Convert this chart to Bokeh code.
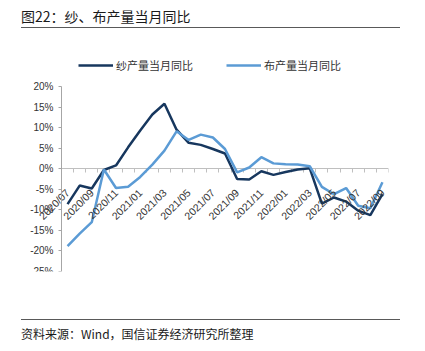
import math
from bokeh.plotting import figure
from bokeh.models import (Range1d, Legend, LegendItem, Div, FixedTicker, LinearAxis)
from bokeh.layouts import column
from bokeh.embed import file_html
from bokeh.resources import INLINE

# ---------------- data ----------------
months = ["2020/07", "2020/08", "2020/09", "2020/10", "2020/11", "2020/12",
          "2021/01", "2021/02", "2021/03", "2021/04", "2021/05", "2021/06",
          "2021/07", "2021/08", "2021/09", "2021/10", "2021/11", "2021/12",
          "2022/01", "2022/02", "2022/03", "2022/04", "2022/05", "2022/06",
          "2022/07", "2022/08", "2022/09"]
yarn = [-8.6, -4.1, -4.8, -0.3, 0.8, 5.2, 9.3, 13.2, 15.8, 9.5, 6.3, 5.8,
        4.8, 3.7, -2.5, -2.6, -0.6, -1.5, -0.8, -0.2, 0.1, -8.5, -7.0, -8.0,
        -10.2, -11.3, -6.2]
cloth = [-18.8, -15.8, -13.0, -0.2, -4.7, -4.4, -2.0, 1.0, 4.4, 9.1, 7.0, 8.3,
         7.6, 4.8, -0.9, 0.3, 2.8, 1.3, 1.1, 1.0, 0.6, -4.4, -6.2, -4.7,
         -9.0, -9.6, -3.3]
series_names = ["纱产量当月同比", "布产量当月同比"]
y_ticks = [-25, -20, -15, -10, -5, 0, 5, 10, 15, 20]
y_tick_labels = ["-25%", "-20%", "-15%", "-10%", "-5%", "0%", "5%", "10%", "15%", "20%"]
title_text = "图22：纱、布产量当月同比"
source_text = "资料来源：Wind，国信证券经济研究所整理"

# ---------------- figure ----------------
idx = list(range(len(months)))
W, FIG_H = 425, 287
TOP, BOTTOM = 26, 48
LEFT, RIGHT = 28, 37
AXIS_X = 61                        # pixel x where the y axis sits
AXIS_PX = 185                      # pixel height of the -25%..20% span
y_lo, y_hi = y_ticks[0], y_ticks[-1]
px = (y_hi - y_lo) / AXIS_PX       # data units per pixel
frame_h = FIG_H - TOP - BOTTOM
y_top = y_lo + frame_h * px        # room above 20% for the legend

x_lo, x_hi = -0.5, len(months) - 0.5
cat_px = (W - RIGHT - AXIS_X) / (x_hi - x_lo)
x_start = x_lo - (AXIS_X - LEFT) / cat_px   # room left of the axis for labels

p = figure(width=W, height=FIG_H,
           x_range=Range1d(x_start, x_hi),
           y_range=Range1d(y_lo, y_top),
           output_backend="svg", toolbar_location=None,
           x_axis_location=None,
           min_border_left=LEFT, min_border_right=RIGHT,
           min_border_top=TOP, min_border_bottom=BOTTOM)
p.outline_line_color = None
p.grid.visible = False
p.background_fill_color = "white"
p.border_fill_color = "white"

ax = p.yaxis[0]
ax.fixed_location = x_lo
ax.ticker = FixedTicker(ticks=y_ticks)
ax.bounds = (y_lo, y_hi)
ax.major_label_overrides = {t: l for t, l in zip(y_ticks, y_tick_labels)}
ax.axis_line_color = "#a6a6a6"
ax.major_tick_line_color = "#a6a6a6"
ax.major_tick_out = 3
ax.major_tick_in = 0
ax.minor_tick_line_color = None
ax.major_label_standoff = 5
ax.major_label_text_font = "Liberation Sans"
ax.major_label_text_font_size = "10px"
ax.major_label_text_color = "#333333"

# x axis crossing at zero: one axis for line + boundary ticks, one for labels
bounds = [i - 0.5 for i in range(len(months) + 1)]
x_rule = LinearAxis(fixed_location=0, ticker=FixedTicker(ticks=bounds),
                    bounds=(x_lo, x_hi),
                    major_label_overrides={b: "" for b in bounds},
                    axis_line_color="#bfbfbf", major_tick_line_color="#bfbfbf",
                    major_tick_out=4, major_tick_in=0,
                    minor_tick_line_color=None, level="underlay")
p.add_layout(x_rule, "below")

lab_idx = idx[::2]
x_lab = LinearAxis(fixed_location=0, ticker=FixedTicker(ticks=lab_idx),
                   major_label_overrides={i: months[i] for i in lab_idx},
                   axis_line_color=None, major_tick_line_color=None,
                   minor_tick_line_color=None, major_tick_out=0, major_tick_in=0,
                   major_label_orientation=math.pi / 4,
                   major_label_standoff=22,
                   major_label_text_font="Liberation Sans",
                   major_label_text_font_size="10.5px",
                   major_label_text_color="#333333")
p.add_layout(x_lab, "below")

r1 = p.line(idx, yarn, line_color="#17375e", line_width=2.5)
r2 = p.line(idx, cloth, line_color="#5b9bd5", line_width=2.5)

legend = Legend(items=[LegendItem(label=series_names[0], renderers=[r1]),
                       LegendItem(label=series_names[1], renderers=[r2])],
                orientation="horizontal", location=(78 - LEFT, 198),
                glyph_width=35, glyph_height=16, label_height=16,
                label_standoff=3, spacing=33, padding=0, margin=0,
                border_line_color=None, background_fill_alpha=0,
                label_text_font="Noto Sans CJK SC", label_text_font_size="11px",
                label_text_color="#333333")
p.add_layout(legend)

title_html = (
    '<div style="position:relative;width:425px;height:32px;background:white">'
    '<div style="position:absolute;left:21px;top:9px;font-family:\'Noto Sans CJK SC\';'
    'font-size:14px;line-height:14px;color:#1a1a1a;white-space:nowrap">'
    f'{title_text}</div>'
    '<div style="position:absolute;left:21px;top:27px;width:379px;height:0;'
    'border-top:1.5px solid #595959"></div></div>')
foot_html = (
    '<div style="position:relative;width:425px;height:32px;background:white">'
    '<div style="position:absolute;left:21px;top:0px;width:379px;height:0;'
    'border-top:1.5px solid #595959"></div>'
    '<div style="position:absolute;left:21px;top:9px;font-family:\'Noto Sans CJK SC\';'
    'font-size:12px;line-height:12px;color:#1a1a1a;white-space:nowrap">'
    f'{source_text}</div></div>')

title_div = Div(text=title_html, width=425, height=32, margin=0)
foot_div = Div(text=foot_html, width=425, height=32, margin=0)

layout = column(title_div, p, foot_div, spacing=0)
open("out.html", "w").write(file_html(layout, INLINE))
